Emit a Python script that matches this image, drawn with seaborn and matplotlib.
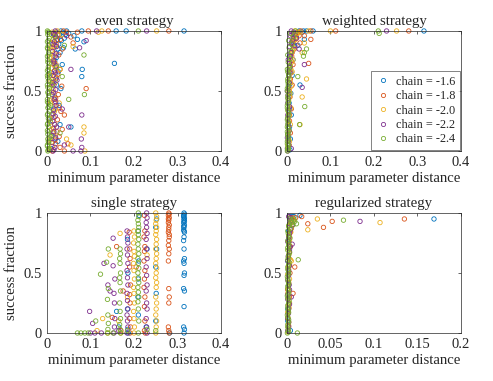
"""
Success fraction vs. minimum parameter distance for four strategies
"""
import matplotlib
matplotlib.use("Agg")
import matplotlib.pyplot as plt
from matplotlib.lines import Line2D
import pandas as pd
import seaborn as sns

# chains and MATLAB default colours
chains = ["-1.6", "-1.8", "-2.0", "-2.2", "-2.4"]
colors = ["#0072BD", "#D95319", "#EDB120", "#7E2F8E", "#77AC30"]

# ---- even strategy (x, success) per chain ----
even_c16 = [(0.010, 0.02), (0.025, 0.08), (0.015, 0.15), (0.030, 0.22), (0.012, 0.30), (0.028, 0.38),
            (0.018, 0.45), (0.032, 0.52), (0.020, 0.60), (0.026, 0.66), (0.035, 0.72), (0.022, 0.78),
            (0.030, 0.82), (0.038, 0.86), (0.027, 0.89), (0.033, 0.92), (0.040, 0.94), (0.029, 0.97),
            (0.036, 0.99), (0.045, 1.00), (0.050, 0.98), (0.024, 0.93),
            (0.015, 0.97), (0.020, 0.99), (0.012, 0.90), (0.025, 0.85), (0.018, 0.75), (0.010, 0.65),
            (0.022, 0.55), (0.016, 0.35), (0.008, 0.25), (0.019, 0.10), (0.032, 1.00), (0.042, 0.97),
            (0.315, 1.00), (0.182, 1.00), (0.159, 1.00), (0.155, 0.73), (0.080, 1.00), (0.080, 0.62),
            (0.081, 0.68), (0.085, 0.91), (0.055, 0.20), (0.062, 0.96), (0.070, 0.93), (0.065, 0.85)]
even_c18 = [(0.012, 0.00), (0.020, 0.06), (0.028, 0.12), (0.015, 0.19), (0.024, 0.26), (0.032, 0.33),
            (0.018, 0.40), (0.026, 0.47), (0.034, 0.54), (0.022, 0.61), (0.030, 0.68), (0.017, 0.74),
            (0.027, 0.80), (0.035, 0.85), (0.021, 0.89), (0.031, 0.93), (0.025, 0.97), (0.038, 1.00),
            (0.045, 0.99),
            (0.016, 0.98), (0.022, 0.92), (0.014, 0.86), (0.019, 0.70), (0.025, 0.64), (0.013, 0.56),
            (0.020, 0.44), (0.028, 0.36), (0.016, 0.28), (0.023, 0.16), (0.018, 0.09), (0.030, 0.03),
            (0.280, 1.00), (0.141, 1.00), (0.095, 1.00), (0.090, 0.52), (0.040, 0.30), (0.035, 0.18),
            (0.040, 0.00), (0.060, 0.90), (0.055, 0.95), (0.070, 0.99), (0.048, 0.06)]
even_c20 = [(0.008, 0.01), (0.012, 0.04), (0.006, 0.09), (0.015, 0.13), (0.010, 0.18), (0.018, 0.22),
            (0.007, 0.27), (0.013, 0.31), (0.020, 0.35), (0.009, 0.40), (0.016, 0.44), (0.011, 0.49),
            (0.006, 0.53), (0.019, 0.57), (0.012, 0.60), (0.008, 0.63), (0.015, 0.66), (0.010, 0.69),
            (0.021, 0.72), (0.013, 0.75), (0.007, 0.78), (0.017, 0.81), (0.011, 0.84), (0.020, 0.87),
            (0.009, 0.90), (0.014, 0.93), (0.018, 0.96), (0.012, 0.99), (0.024, 1.00),
            (0.005, 0.02), (0.010, 0.07), (0.014, 0.16), (0.008, 0.24), (0.017, 0.33), (0.006, 0.42),
            (0.014, 0.51), (0.009, 0.58), (0.017, 0.62), (0.011, 0.73), (0.015, 0.79), (0.008, 0.86),
            (0.016, 0.91), (0.010, 0.97), (0.022, 0.99),
            (0.252, 1.00), (0.126, 1.00), (0.118, 0.99), (0.085, 0.20), (0.085, 0.15), (0.087, 0.00),
            (0.055, 0.05), (0.060, 0.87), (0.045, 0.10), (0.035, 0.97), (0.030, 0.68), (0.028, 0.40)]
even_c22 = [(0.014, 0.00), (0.018, 0.03), (0.012, 0.07), (0.020, 0.11), (0.016, 0.16), (0.022, 0.20),
            (0.013, 0.25), (0.019, 0.29), (0.015, 0.34), (0.021, 0.38), (0.017, 0.43), (0.012, 0.47),
            (0.020, 0.51), (0.016, 0.55), (0.023, 0.59), (0.014, 0.63), (0.018, 0.67), (0.021, 0.71),
            (0.015, 0.75), (0.019, 0.79), (0.013, 0.83), (0.022, 0.87), (0.017, 0.91), (0.020, 0.95),
            (0.015, 0.98), (0.019, 1.00),
            (0.016, 0.01), (0.011, 0.13), (0.018, 0.22), (0.014, 0.31), (0.020, 0.41), (0.015, 0.49),
            (0.012, 0.57), (0.019, 0.65), (0.016, 0.73), (0.021, 0.81), (0.014, 0.89), (0.018, 0.97),
            (0.229, 1.00), (0.114, 1.00), (0.080, 0.30), (0.080, 0.03), (0.078, 0.00), (0.079, 0.10),
            (0.075, 0.86), (0.090, 0.92), (0.040, 0.05), (0.050, 0.20), (0.035, 0.35), (0.060, 0.00),
            (0.045, 0.96), (0.055, 0.68)]
even_c24 = [(0.002, 0.00), (0.004, 0.02), (0.001, 0.05), (0.003, 0.08), (0.005, 0.11), (0.002, 0.14),
            (0.001, 0.17), (0.004, 0.20), (0.002, 0.23), (0.003, 0.27), (0.001, 0.30), (0.005, 0.33),
            (0.002, 0.36), (0.003, 0.40), (0.001, 0.43), (0.004, 0.46), (0.002, 0.49), (0.006, 0.52),
            (0.001, 0.55), (0.003, 0.58), (0.002, 0.61), (0.004, 0.64), (0.001, 0.67), (0.003, 0.70),
            (0.005, 0.73), (0.002, 0.76), (0.001, 0.79), (0.004, 0.82), (0.002, 0.85), (0.003, 0.88),
            (0.001, 0.91), (0.005, 0.94), (0.002, 0.97), (0.001, 1.00), (0.004, 0.99), (0.008, 0.38),
            (0.009, 0.12),
            (0.003, 0.01), (0.001, 0.04), (0.004, 0.07), (0.002, 0.10), (0.003, 0.16), (0.001, 0.22),
            (0.005, 0.26), (0.002, 0.31), (0.004, 0.37), (0.001, 0.41), (0.003, 0.48), (0.002, 0.53),
            (0.005, 0.59), (0.001, 0.63), (0.003, 0.68), (0.002, 0.74), (0.004, 0.80), (0.001, 0.86),
            (0.003, 0.92), (0.002, 0.99),
            (0.210, 1.00), (0.085, 0.80), (0.086, 0.47), (0.030, 0.15), (0.035, 0.62), (0.050, 0.43),
            (0.040, 0.88), (0.012, 0.55), (0.018, 0.95), (0.022, 0.70)]

# ---- weighted strategy ----
weighted_c16 = [(0.004, 0.03), (0.008, 0.10), (0.006, 0.20), (0.010, 0.30), (0.005, 0.40), (0.009, 0.48),
                (0.007, 0.56), (0.012, 0.63), (0.008, 0.70), (0.014, 0.76), (0.010, 0.82), (0.018, 0.87),
                (0.013, 0.91), (0.022, 0.95), (0.016, 0.98), (0.028, 1.00), (0.035, 0.99), (0.045, 1.00),
                (0.060, 1.00),
                (0.003, 0.12), (0.006, 0.35), (0.004, 0.52), (0.009, 0.66), (0.006, 0.79), (0.011, 0.89),
                (0.020, 0.97), (0.024, 0.99), (0.038, 1.00),
                (0.315, 1.00), (0.030, 0.55), (0.025, 0.88), (0.040, 0.93), (0.007, 0.01)]
weighted_c18 = [(0.005, 0.05), (0.008, 0.15), (0.006, 0.25), (0.010, 0.35), (0.007, 0.45), (0.012, 0.55),
                (0.009, 0.65), (0.014, 0.72), (0.011, 0.79), (0.017, 0.85), (0.013, 0.90), (0.020, 0.94),
                (0.016, 0.97), (0.025, 0.99), (0.032, 1.00),
                (0.004, 0.10), (0.006, 0.30), (0.005, 0.50), (0.008, 0.60), (0.010, 0.75), (0.012, 0.82),
                (0.015, 0.92), (0.022, 0.98), (0.028, 0.96),
                (0.280, 1.00), (0.112, 1.00), (0.055, 1.00), (0.055, 0.93), (0.050, 0.73), (0.040, 0.96),
                (0.030, 0.90)]
weighted_c20 = [(0.003, 0.02), (0.006, 0.08), (0.004, 0.15), (0.008, 0.22), (0.005, 0.29), (0.009, 0.36),
                (0.004, 0.42), (0.007, 0.48), (0.010, 0.54), (0.006, 0.60), (0.012, 0.66), (0.008, 0.71),
                (0.014, 0.76), (0.010, 0.81), (0.016, 0.86), (0.012, 0.90), (0.020, 0.93), (0.015, 0.96),
                (0.025, 0.98), (0.018, 1.00), (0.030, 0.99),
                (0.002, 0.05), (0.004, 0.25), (0.003, 0.33), (0.006, 0.45), (0.005, 0.51), (0.008, 0.57),
                (0.009, 0.68), (0.011, 0.74), (0.013, 0.84), (0.017, 0.92), (0.022, 0.97),
                (0.252, 1.00), (0.100, 1.00), (0.050, 1.00), (0.045, 0.60), (0.035, 0.45), (0.030, 0.22),
                (0.040, 0.90), (0.035, 0.82)]
weighted_c22 = [(0.002, 0.00), (0.004, 0.05), (0.001, 0.11), (0.005, 0.17), (0.003, 0.23), (0.002, 0.30),
                (0.006, 0.37), (0.003, 0.44), (0.001, 0.50), (0.005, 0.57), (0.004, 0.63), (0.007, 0.70),
                (0.003, 0.76), (0.009, 0.82), (0.006, 0.87), (0.012, 0.92), (0.008, 0.96), (0.015, 0.99),
                (0.010, 1.00), (0.022, 0.94), (0.018, 0.88),
                (0.001, 0.02), (0.003, 0.08), (0.002, 0.14), (0.004, 0.20), (0.002, 0.27), (0.004, 0.34),
                (0.002, 0.40), (0.003, 0.47), (0.004, 0.54), (0.005, 0.66), (0.006, 0.73), (0.008, 0.79),
                (0.010, 0.90), (0.012, 0.97),
                (0.229, 1.00), (0.040, 0.72), (0.035, 0.53), (0.028, 0.85), (0.010, 0.02)]
weighted_c24 = [(0.001, 0.00), (0.003, 0.01), (0.002, 0.03), (0.004, 0.05), (0.001, 0.08), (0.003, 0.11),
                (0.002, 0.14), (0.005, 0.17), (0.001, 0.20), (0.003, 0.24), (0.002, 0.28), (0.004, 0.32),
                (0.001, 0.36), (0.003, 0.40), (0.002, 0.44), (0.005, 0.48), (0.001, 0.52), (0.003, 0.56),
                (0.002, 0.60), (0.004, 0.64), (0.001, 0.68), (0.006, 0.71), (0.003, 0.74), (0.008, 0.77),
                (0.002, 0.80), (0.010, 0.83), (0.005, 0.86), (0.012, 0.89), (0.004, 0.92), (0.015, 0.95),
                (0.008, 0.98), (0.020, 1.00),
                (0.002, 0.02), (0.001, 0.06), (0.003, 0.09), (0.002, 0.13), (0.001, 0.16), (0.003, 0.19),
                (0.002, 0.22), (0.001, 0.26), (0.004, 0.30), (0.002, 0.34), (0.001, 0.38), (0.003, 0.42),
                (0.002, 0.46), (0.001, 0.50), (0.003, 0.54), (0.002, 0.58), (0.004, 0.62), (0.002, 0.66),
                (0.005, 0.69),
                (0.210, 1.00), (0.212, 0.98), (0.040, 0.82), (0.045, 0.85), (0.041, 0.37), (0.038, 0.79),
                (0.029, 0.22), (0.025, 0.62)]

# ---- single strategy ----
single_c16 = [(0.315, 1.00), (0.314, 0.98), (0.316, 0.96), (0.315, 0.94), (0.314, 0.92), (0.316, 0.90),
              (0.315, 0.88), (0.314, 0.86), (0.316, 0.84), (0.315, 0.80), (0.314, 0.77), (0.315, 0.70),
              (0.316, 0.62), (0.314, 0.60), (0.315, 0.58), (0.316, 0.50), (0.315, 0.48), (0.314, 0.37),
              (0.316, 0.35), (0.315, 0.22), (0.314, 0.05), (0.316, 0.03), (0.315, 0.00),
              (0.316, 0.99), (0.314, 0.97), (0.315, 0.95), (0.316, 0.93), (0.314, 0.89), (0.315, 0.85),
              (0.252, 0.95), (0.250, 0.88), (0.252, 0.70), (0.250, 0.55), (0.251, 0.33), (0.250, 0.10),
              (0.212, 0.98), (0.210, 0.85), (0.211, 0.60), (0.210, 0.45), (0.209, 0.30), (0.210, 0.15),
              (0.185, 0.78), (0.186, 0.50), (0.185, 0.20), (0.186, 0.03), (0.187, 0.00), (0.160, 0.18),
              (0.165, 0.05), (0.230, 0.70), (0.228, 0.05), (0.282, 0.00)]
single_c18 = [(0.280, 1.00), (0.279, 0.98), (0.281, 0.96), (0.280, 0.94), (0.279, 0.92), (0.281, 0.90),
              (0.280, 0.86), (0.279, 0.84), (0.281, 0.80), (0.280, 0.77), (0.279, 0.73), (0.281, 0.70),
              (0.280, 0.66), (0.279, 0.60), (0.280, 0.37), (0.281, 0.30), (0.280, 0.25), (0.279, 0.05),
              (0.280, 0.02), (0.281, 0.00),
              (0.281, 0.99), (0.279, 0.95), (0.280, 0.88), (0.281, 0.82),
              (0.224, 0.98), (0.225, 0.85), (0.223, 0.80), (0.225, 0.72), (0.224, 0.68), (0.223, 0.60),
              (0.225, 0.52), (0.224, 0.45), (0.223, 0.38), (0.225, 0.30), (0.224, 0.22), (0.225, 0.10),
              (0.224, 0.02), (0.226, 0.00),
              (0.189, 0.84), (0.190, 0.70), (0.191, 0.62), (0.190, 0.55), (0.192, 0.40), (0.190, 0.32),
              (0.191, 0.25), (0.190, 0.12), (0.192, 0.05), (0.191, 0.00),
              (0.160, 0.72), (0.150, 0.13), (0.170, 0.02), (0.175, 0.35), (0.205, 0.55)]
single_c20 = [(0.250, 1.00), (0.252, 0.97), (0.251, 0.94), (0.250, 0.91), (0.252, 0.88), (0.251, 0.85),
              (0.250, 0.82), (0.252, 0.78), (0.251, 0.74), (0.250, 0.70), (0.252, 0.66), (0.251, 0.62),
              (0.250, 0.58), (0.252, 0.54), (0.251, 0.50), (0.250, 0.46), (0.252, 0.42), (0.251, 0.38),
              (0.250, 0.30), (0.252, 0.25), (0.251, 0.20), (0.250, 0.15), (0.252, 0.10), (0.251, 0.05),
              (0.250, 0.00),
              (0.200, 0.85), (0.201, 0.80), (0.199, 0.75), (0.200, 0.68), (0.201, 0.64), (0.199, 0.58),
              (0.200, 0.52), (0.201, 0.45), (0.199, 0.38), (0.200, 0.33), (0.201, 0.25), (0.199, 0.18),
              (0.200, 0.12), (0.201, 0.05), (0.200, 0.00),
              (0.168, 0.83), (0.145, 0.65), (0.128, 0.12), (0.115, 0.02), (0.165, 0.10), (0.170, 0.00),
              (0.140, 0.00), (0.185, 0.30), (0.230, 0.65)]
single_c22 = [(0.229, 1.00), (0.230, 0.96), (0.228, 0.92), (0.229, 0.88), (0.230, 0.83), (0.228, 0.78),
              (0.229, 0.70), (0.230, 0.62), (0.228, 0.55), (0.229, 0.48), (0.230, 0.40), (0.228, 0.35),
              (0.229, 0.25), (0.230, 0.20), (0.228, 0.12), (0.229, 0.05), (0.230, 0.00),
              (0.184, 0.85), (0.185, 0.80), (0.186, 0.75), (0.184, 0.70), (0.185, 0.65), (0.186, 0.58),
              (0.184, 0.52), (0.185, 0.46), (0.186, 0.40), (0.184, 0.33), (0.185, 0.27), (0.186, 0.20),
              (0.184, 0.15), (0.185, 0.10), (0.186, 0.05), (0.184, 0.00),
              (0.152, 0.79), (0.152, 0.56), (0.156, 0.45), (0.154, 0.33), (0.155, 0.25), (0.156, 0.12),
              (0.155, 0.05), (0.154, 0.00),
              (0.131, 0.58), (0.105, 0.08), (0.100, 0.00), (0.110, 0.00), (0.125, 0.00), (0.140, 0.40),
              (0.165, 0.02), (0.098, 0.18), (0.145, 0.35)]
single_c24 = [(0.210, 1.00), (0.211, 0.97), (0.209, 0.94), (0.210, 0.91), (0.211, 0.88), (0.209, 0.85),
              (0.210, 0.82), (0.211, 0.78), (0.209, 0.74), (0.210, 0.70), (0.211, 0.66), (0.209, 0.62),
              (0.210, 0.58), (0.211, 0.54), (0.209, 0.50), (0.210, 0.46), (0.211, 0.42), (0.209, 0.38),
              (0.210, 0.34), (0.211, 0.30), (0.209, 0.26), (0.210, 0.20), (0.211, 0.10), (0.210, 0.00),
              (0.168, 0.70), (0.169, 0.66), (0.167, 0.62), (0.168, 0.58), (0.169, 0.50), (0.167, 0.46),
              (0.168, 0.42), (0.169, 0.35), (0.167, 0.25), (0.168, 0.18), (0.169, 0.12), (0.167, 0.07),
              (0.168, 0.03), (0.169, 0.00),
              (0.141, 0.70), (0.137, 0.59), (0.141, 0.37), (0.139, 0.28), (0.140, 0.15), (0.141, 0.08),
              (0.140, 0.03), (0.139, 0.00),
              (0.123, 0.49), (0.112, 0.10), (0.070, 0.00), (0.078, 0.00), (0.087, 0.00), (0.095, 0.00),
              (0.152, 0.00), (0.185, 0.02), (0.230, 0.03), (0.250, 0.02)]

# ---- regularized strategy ----
reg_c16 = [(0.001, 0.10), (0.002, 0.30), (0.0015, 0.50), (0.003, 0.70), (0.002, 0.85), (0.004, 0.93),
           (0.003, 0.97), (0.006, 0.97),
           (0.001, 0.20), (0.002, 0.40), (0.001, 0.60), (0.002, 0.78), (0.004, 0.96), (0.008, 0.97),
           (0.169, 0.95), (0.015, 0.98), (0.004, 0.02)]
reg_c18 = [(0.002, 0.06), (0.0015, 0.18), (0.003, 0.30), (0.002, 0.42), (0.0035, 0.50), (0.0025, 0.62),
           (0.004, 0.72), (0.003, 0.80), (0.005, 0.87), (0.004, 0.92), (0.006, 0.96), (0.008, 0.94),
           (0.001, 0.12), (0.002, 0.24), (0.001, 0.36), (0.002, 0.56), (0.003, 0.67), (0.002, 0.76),
           (0.004, 0.84), (0.006, 0.90), (0.010, 0.96),
           (0.135, 0.95), (0.052, 0.93), (0.042, 0.88), (0.024, 0.91), (0.009, 0.55), (0.017, 0.97),
           (0.007, 0.33)]
reg_c20 = [(0.0015, 0.05), (0.001, 0.13), (0.0025, 0.21), (0.002, 0.29), (0.0015, 0.37), (0.003, 0.45),
           (0.002, 0.53), (0.004, 0.61), (0.0025, 0.69), (0.003, 0.77), (0.0045, 0.84), (0.002, 0.89),
           (0.005, 0.93), (0.003, 0.96),
           (0.001, 0.01), (0.002, 0.09), (0.001, 0.17), (0.003, 0.25), (0.001, 0.33), (0.002, 0.41),
           (0.001, 0.49), (0.003, 0.57), (0.002, 0.65), (0.003, 0.73), (0.002, 0.81), (0.004, 0.91),
           (0.007, 0.95),
           (0.107, 0.92), (0.035, 0.95), (0.024, 0.86), (0.005, 0.60)]
reg_c22 = [(0.001, 0.02), (0.002, 0.09), (0.0015, 0.16), (0.003, 0.24), (0.001, 0.32), (0.0025, 0.40),
           (0.002, 0.48), (0.003, 0.56), (0.0015, 0.64), (0.0035, 0.72), (0.002, 0.80), (0.004, 0.86),
           (0.003, 0.91), (0.005, 0.94), (0.002, 0.97),
           (0.002, 0.05), (0.001, 0.12), (0.002, 0.20), (0.001, 0.28), (0.003, 0.36), (0.001, 0.44),
           (0.002, 0.52), (0.001, 0.60), (0.003, 0.68), (0.001, 0.76), (0.003, 0.83), (0.006, 0.90),
           (0.004, 0.96),
           (0.084, 0.93), (0.005, 0.30), (0.006, 0.74)]
reg_c24 = [(0.0005, 0.00), (0.0015, 0.03), (0.001, 0.07), (0.002, 0.11), (0.0005, 0.15), (0.0015, 0.19),
           (0.001, 0.23), (0.0025, 0.27), (0.0005, 0.31), (0.002, 0.35), (0.001, 0.39), (0.0015, 0.43),
           (0.0005, 0.47), (0.002, 0.51), (0.001, 0.55), (0.0025, 0.59), (0.0015, 0.63), (0.003, 0.67),
           (0.001, 0.71), (0.002, 0.75), (0.0035, 0.79), (0.0015, 0.83), (0.004, 0.87), (0.0025, 0.90),
           (0.006, 0.92), (0.009, 0.93), (0.011, 0.91), (0.003, 0.95),
           (0.002, 0.01), (0.001, 0.05), (0.002, 0.09), (0.001, 0.13), (0.002, 0.17), (0.001, 0.21),
           (0.002, 0.25), (0.001, 0.29), (0.002, 0.33), (0.001, 0.37), (0.002, 0.41), (0.001, 0.45),
           (0.002, 0.49), (0.001, 0.53), (0.002, 0.57), (0.001, 0.61), (0.002, 0.65), (0.001, 0.69),
           (0.002, 0.73), (0.001, 0.77), (0.002, 0.81), (0.001, 0.85), (0.002, 0.89), (0.005, 0.94),
           (0.007, 0.90),
           (0.065, 0.94), (0.013, 0.61), (0.012, 0.00), (0.008, 0.95)]

panels = [
    ("even strategy", [even_c16, even_c18, even_c20, even_c22, even_c24]),
    ("weighted strategy", [weighted_c16, weighted_c18, weighted_c20, weighted_c22, weighted_c24]),
    ("single strategy", [single_c16, single_c18, single_c20, single_c22, single_c24]),
    ("regularized strategy", [reg_c16, reg_c18, reg_c20, reg_c22, reg_c24]),
]


def to_frame(series):
    rows = []
    for chain, pts in zip(chains, series):
        for x, y in pts:
            rows.append({"distance": x, "success": y, "chain": chain})
    return pd.DataFrame(rows)


sns.set_style("white")
plt.rcParams["font.family"] = ["Liberation Serif", "DejaVu Serif"]
text_color = "#262626"
plt.rcParams["text.color"] = text_color
plt.rcParams["axes.labelcolor"] = text_color
plt.rcParams["xtick.color"] = text_color
plt.rcParams["ytick.color"] = text_color

fig = plt.figure(figsize=(4.93, 3.81), dpi=100)
positions = [
    [0.0953, 0.6037, 0.353, 0.315],
    [0.582, 0.6037, 0.353, 0.315],
    [0.0953, 0.126, 0.353, 0.315],
    [0.582, 0.126, 0.353, 0.315],
]
palette = dict(zip(chains, colors))

for i, ((title, series), pos) in enumerate(zip(panels, positions)):
    ax = fig.add_axes(pos)
    df = to_frame(series)
    sns.scatterplot(data=df, x="distance", y="success", hue="chain", palette=palette,
                    hue_order=chains, s=10, linewidth=0.6, legend=False, ax=ax)
    for coll in ax.collections:
        coll.set_edgecolors(coll.get_facecolors())
        coll.set_facecolors("none")
        coll.set_clip_on(False)

    if i == 3:
        ax.set_xlim(0, 0.2)
        ax.set_xticks([0, 0.05, 0.1, 0.15, 0.2])
        ax.set_xticklabels(["0", "0.05", "0.1", "0.15", "0.2"])
    else:
        ax.set_xlim(0, 0.4)
        ax.set_xticks([0, 0.1, 0.2, 0.3, 0.4])
        ax.set_xticklabels(["0", "0.1", "0.2", "0.3", "0.4"])
    ax.set_ylim(0, 1)
    ax.set_yticks([0, 0.5, 1])
    ax.set_yticklabels(["0", "0.5", "1"])

    ax.tick_params(direction="in", top=True, right=True, length=2.5, width=0.5,
                   labelsize=10.5, pad=3.5)
    for sp in ax.spines.values():
        sp.set_color(text_color)
        sp.set_linewidth(0.5)

    ax.set_title(title, fontsize=10.6, pad=4)
    ax.set_xlabel("minimum parameter distance", fontsize=10.6, labelpad=2)
    if i % 2 == 0:
        ax.set_ylabel("success fraction", fontsize=10.6, labelpad=4)
    else:
        ax.set_ylabel("")

    if i == 1:
        handles = [Line2D([], [], linestyle="none", marker="o", markersize=3,
                          markerfacecolor="none", markeredgecolor=c, markeredgewidth=0.6)
                   for c in colors]
        labels = [f"chain = {c}" for c in chains]
        leg = ax.legend(handles, labels, loc="lower right", fontsize=8.8, frameon=True,
                        fancybox=False, borderaxespad=0.1, handlelength=1.2,
                        handletextpad=0.5, labelspacing=0.2, borderpad=0.35)
        leg.get_frame().set_edgecolor(text_color)
        leg.get_frame().set_linewidth(0.5)

fig.savefig("out.png", dpi=100)
